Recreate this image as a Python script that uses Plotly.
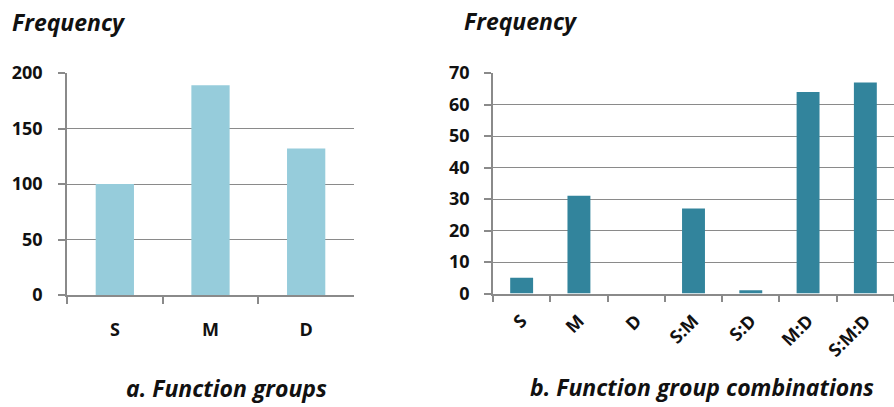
import plotly.graph_objects as go

# Data
groups = ["S", "M", "D"]
group_freq = [100, 189, 132]

combos = ["S", "M", "D", "S:M", "S:D", "M:D", "S:M:D"]
combo_freq = [5, 31, 0, 27, 1, 64, 67]

left_yticks = [0, 50, 100, 150, 200]
right_yticks = [0, 10, 20, 30, 40, 50, 60, 70]

W, H = 894, 407
FONT = "Open Sans"
GRID = "#8a8a8a"

fig = go.Figure()
fig.add_trace(go.Bar(x=groups, y=group_freq, marker=dict(color="#96CCDB", line=dict(width=0)),
                     xaxis="x", yaxis="y", showlegend=False))
fig.add_trace(go.Bar(x=combos, y=combo_freq, marker=dict(color="#32849C", line=dict(width=0)),
                     xaxis="x2", yaxis="y2", showlegend=False))

def px_x(p):
    return p / W

def px_y(p):
    return (H - p) / H

axis_common = dict(showline=True, linecolor=GRID, linewidth=1.5, ticks="outside",
                   tickcolor=GRID, ticklen=7, tickwidth=1.5, automargin=False,
                   tickfont=dict(family=FONT, size=18, color="#111111", weight="bold"))

fig.update_layout(
    width=W, height=H, margin=dict(l=0, r=0, t=0, b=0),
    plot_bgcolor="white", paper_bgcolor="white", bargap=0.6,
    xaxis=dict(domain=[px_x(67), px_x(354)], anchor="y", tickson="boundaries",
               showgrid=False, ticklabelstandoff=18, **axis_common),
    yaxis=dict(domain=[px_y(295), px_y(73)], anchor="x", range=[0, 200],
               tickvals=left_yticks, showgrid=True, gridcolor=GRID, gridwidth=1.2,
               zeroline=False, ticklabelstandoff=12, **axis_common),
    xaxis2=dict(domain=[px_x(493), 1.0], anchor="y2", tickson="boundaries",
                showgrid=False, tickangle=-45, ticklabelstandoff=8, **axis_common),
    yaxis2=dict(domain=[px_y(293.5), px_y(73)], anchor="x2", range=[0, 70],
                tickvals=right_yticks, showgrid=True, gridcolor=GRID, gridwidth=1.2,
                zeroline=False, ticklabelstandoff=11, **axis_common),
)

title_font = dict(family=FONT, size=23, color="#111111", weight="bold", style="italic")
fig.add_annotation(text="Frequency", x=px_x(10), y=px_y(22), xref="paper", yref="paper",
                   xanchor="left", yanchor="middle", showarrow=False, font=title_font)
fig.add_annotation(text="Frequency", x=px_x(462), y=px_y(21), xref="paper", yref="paper",
                   xanchor="left", yanchor="middle", showarrow=False, font=title_font)
cap_font = dict(family=FONT, size=23, color="#111111", weight="bold", style="italic")
fig.add_annotation(text="a. Function groups", x=px_x(226), y=px_y(388), xref="paper", yref="paper",
                   xanchor="center", yanchor="middle", showarrow=False, font=cap_font)
fig.add_annotation(text="b. Function group combinations", x=px_x(702), y=px_y(387), xref="paper", yref="paper",
                   xanchor="center", yanchor="middle", showarrow=False, font=cap_font)

fig.write_html("out.html")
